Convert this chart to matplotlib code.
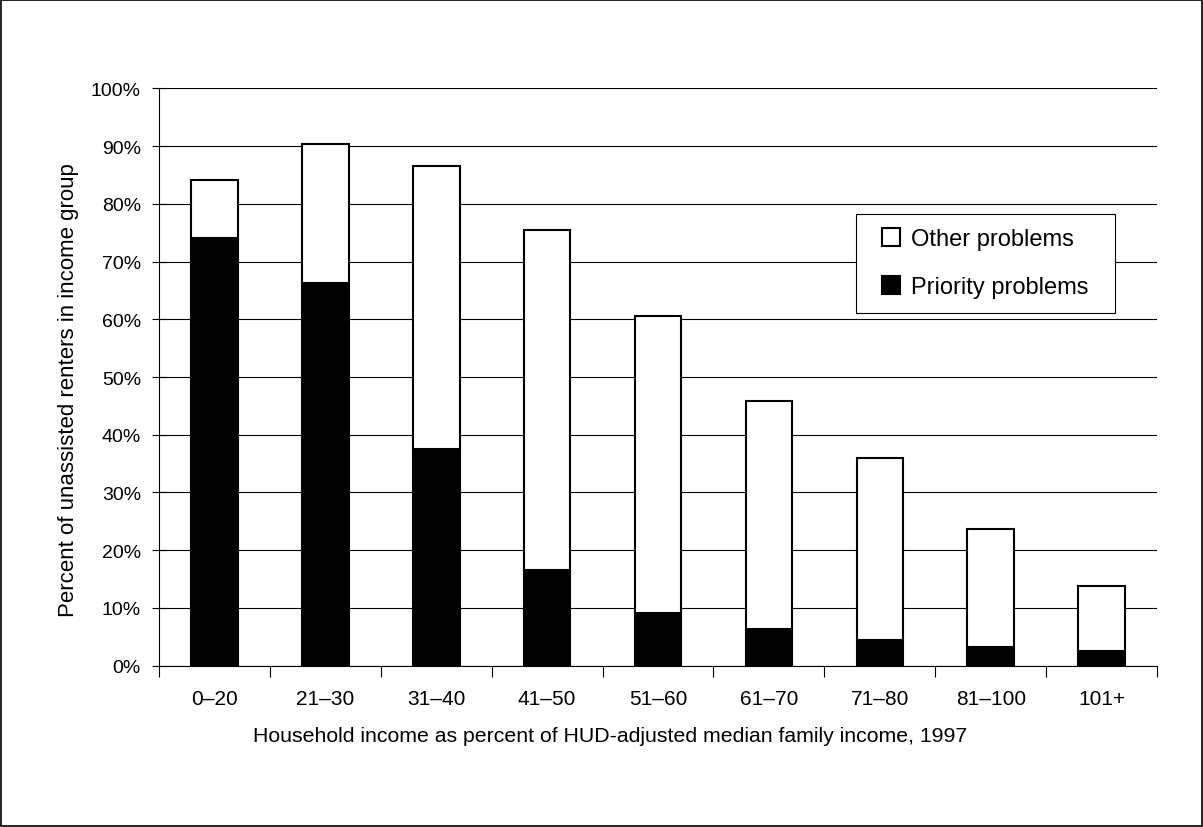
import matplotlib.pyplot as plt
from matplotlib.patches import Patch, Rectangle
import numpy as np

plt.rcParams['font.family'] = ['Liberation Sans', 'DejaVu Sans']

# Income groups and shares (percent of unassisted renters)
groups = ['0–20', '21–30', '31–40', '41–50', '51–60', '61–70', '71–80', '81–100', '101+']
total_problems = [84.1, 90.4, 86.5, 75.4, 60.6, 45.8, 35.9, 23.6, 13.8]
priority_problems = [74.1, 66.3, 37.5, 16.6, 9.1, 6.3, 4.4, 3.2, 2.5]
other_problems = [t - p for t, p in zip(total_problems, priority_problems)]

fig = plt.figure(figsize=(12.03, 8.28), dpi=100)
ax = fig.add_axes([0.1322, 0.1948, 0.8296, 0.6973])

x = np.arange(len(groups))
ax.bar(x, priority_problems, width=0.42, color='black', edgecolor='black',
       linewidth=1.5, zorder=3)
ax.bar(x, other_problems, width=0.42, bottom=priority_problems, color='white',
       edgecolor='black', linewidth=1.5, zorder=3)

ax.set_xlim(-0.5, len(groups) - 0.5)
ax.set_ylim(0, 100)
ax.set_yticks(np.arange(0, 101, 10))
ax.set_yticklabels([f'{v}%' for v in range(0, 101, 10)], fontsize=14)
ax.grid(axis='y', color='black', linewidth=0.8, zorder=0)

ax.set_xticks(x)
ax.set_xticklabels(groups, fontsize=15)
ax.set_xticks(np.arange(-0.5, len(groups)), minor=True)
ax.tick_params(axis='x', which='major', length=0, pad=17)
ax.tick_params(axis='x', which='minor', length=8, direction='out', width=0.8)
ax.tick_params(axis='y', length=10, direction='inout', width=0.8, pad=8)

for side in ['top', 'right']:
    ax.spines[side].set_visible(False)
for side in ['left', 'bottom']:
    ax.spines[side].set_linewidth(0.8)

ax.set_xlabel('Household income as percent of HUD-adjusted median family income, 1997',
              fontsize=15.3)
ax.set_ylabel('Percent of unassisted renters in income group', fontsize=16)
ax.xaxis.set_label_coords(0.452, -0.104)
ax.yaxis.set_label_coords(-0.080, 0.479)

handles = [Patch(facecolor='white', edgecolor='black', linewidth=1.5, label='Other problems'),
           Patch(facecolor='black', edgecolor='black', linewidth=1.5, label='Priority problems')]
leg = ax.legend(handles=handles, loc='upper right', bbox_to_anchor=(0.946, 0.782),
                fontsize=17, frameon=False,
                handlelength=0.76, handleheight=0.76, handletextpad=0.47,
                labelspacing=1.1, borderpad=0.6, borderaxespad=0)
leg.set_zorder(5)

# legend box: wider side margins than matplotlib's uniform border padding
fig.canvas.draw()
bb = leg.get_window_extent()
ax.add_artist(Rectangle((bb.x0 - 12, bb.y0), bb.width + 24, bb.height, transform=None,
                        facecolor='white', edgecolor='black', linewidth=0.8, zorder=4))

fig.patches.append(Rectangle((0.001, 0.001), 0.998, 0.998, transform=fig.transFigure,
                             fill=False, edgecolor='black', linewidth=1.2))

fig.savefig('out.png', dpi=100)
